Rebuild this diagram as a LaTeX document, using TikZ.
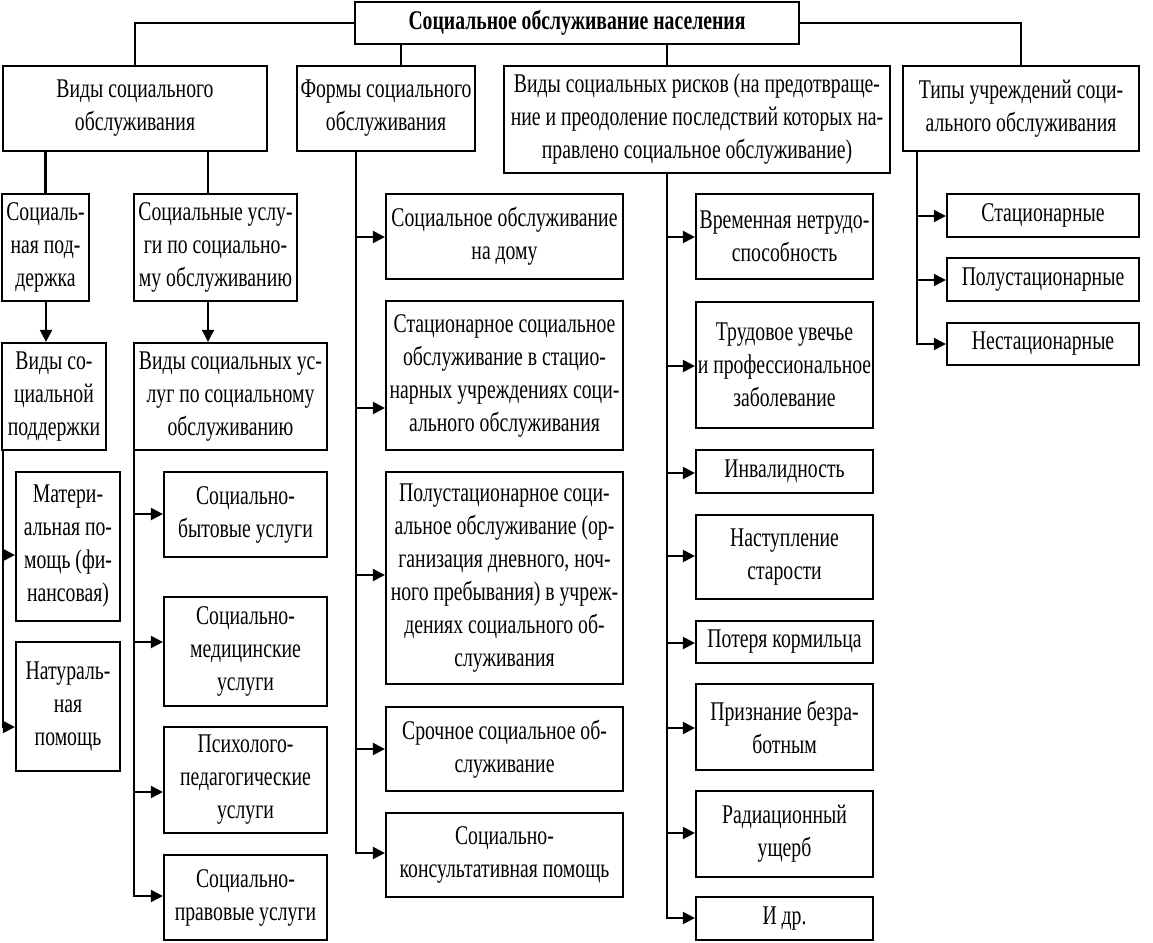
\documentclass[tikz,border=0pt]{standalone}
\usepackage{fontspec}
\setmainfont[FakeStretch=0.73]{Liberation Serif}
\usetikzlibrary{arrows.meta}
\newcommand{\bx}[7][]{\node[box,#1,minimum width={#5-#3},minimum height={#6-#4}] (#2) at ({(#3+#5)/2},{(#4+#6)/2}) {#7};}
\begin{document}
\begin{tikzpicture}[x=1pt,y=-1pt,
  box/.style={draw=black,line width=2.2pt,inner sep=0pt,align=center,font=\fontsize{27}{33}\selectfont},
  ln/.style={line width=2.2pt},
  arr/.style={line width=2.2pt,-{Triangle[length=12pt,width=12pt]}}]
\useasboundingbox (0,0) rectangle (1153,942);
% level 0-1
\bx[font=\fontsize{27}{33}\selectfont\bfseries]{top}{355}{2}{799}{44}{Социальное обслуживание населения}
\bx{vid}{3}{66}{267}{151}{Виды социального\\обслуживания}
\bx{form}{297}{66}{475}{151}{Формы социального\\обслуживания}
\bx{risk}{504}{66}{890}{173}{Виды социальных рисков (на предотвраще-\\ние и преодоление последствий которых на-\\правлено социальное обслуживание)}
\bx{tip}{903}{66}{1139}{151}{Типы учреждений соци-\\ального обслуживания}
% column 1-2
\bx{pod}{2}{194}{89}{301}{Социаль-\\ная под-\\держка}
\bx{usl}{134}{194}{297}{301}{Социальные услу-\\ги по социально-\\му обслуживанию}
\bx{vpod}{2}{343}{106}{450}{Виды со-\\циальной\\поддержки}
\bx{vusl}{134}{343}{327}{450}{Виды социальных ус-\\луг по социальному\\обслуживанию}
\bx{mat}{16}{472}{120}{621}{Матери-\\альная по-\\мощь (фи-\\нансовая)}
\bx{nat}{16}{642}{120}{771}{Натураль-\\ная\\помощь}
\bx{byt}{164}{472}{327}{557}{Социально-\\бытовые услуги}
\bx{med}{164}{597}{327}{706}{Социально-\\медицинские\\услуги}
\bx{psy}{164}{727}{327}{833}{Психолого-\\педагогические\\услуги}
\bx{pra}{164}{855}{327}{940}{Социально-\\правовые услуги}
% column 3
\bx{dom}{386}{194}{623}{279}{Социальное обслуживание\\на дому}
\bx{sta}{386}{301}{623}{450}{Стационарное социальное\\обслуживание в стацио-\\нарных учреждениях соци-\\ального обслуживания}
\bx{pst}{386}{472}{623}{684}{Полустационарное соци-\\альное обслуживание (ор-\\ганизация дневного, ноч-\\ного пребывания) в учреж-\\дениях социального об-\\служивания}
\bx{sro}{386}{707}{623}{791}{Срочное социальное об-\\служивание}
\bx{kon}{386}{813}{623}{897}{Социально-\\консультативная помощь}
% column 4
\bx{vre}{696}{194}{873}{279}{Временная нетрудо-\\способность}
\bx{tru}{696}{302}{873}{428}{Трудовое увечье\\и профессиональное\\заболевание}
\bx{inv}{696}{450}{873}{493}{Инвалидность}
\bx{nas}{696}{515}{873}{599}{Наступление\\старости}
\bx{pot}{696}{621}{873}{663}{Потеря кормильца}
\bx{pri}{696}{684}{873}{770}{Признание безра-\\ботным}
\bx{rad}{696}{791}{873}{877}{Радиационный\\ущерб}
\bx{idr}{696}{897}{873}{940}{И др.}
% column 5
\bx{st}{947}{194}{1139}{237}{Стационарные}
\bx{pst2}{947}{258}{1139}{301}{Полустационарные}
\bx{nst}{947}{323}{1139}{365}{Нестационарные}
% x positions of connector lines
\coordinate (xA) at (401,0);
\coordinate (xB) at (667,0);
\coordinate (xC) at (208,0);
\coordinate (xD) at (46,0);
\coordinate (xE) at (3,0);
\coordinate (xG) at (134,0);
\coordinate (xH) at (356,0);
\coordinate (xI) at (917,0);
% connectors
\draw[ln] (top.west) -| (vid.north);
\draw[ln] (top.east) -| (tip.north);
\draw[ln] (top.south -| xA) -- (form.north -| xA);
\draw[ln] (top.south -| xB) -- (risk.north -| xB);
\draw[ln] (vid.south -| pod.north) -- (pod.north);
\draw[ln] (vid.south -| xC) -- (usl.north -| xC);
\draw[arr] (pod.south -| xD) -- (vpod.north -| xD);
\draw[arr] (usl.south -| xC) -- (vusl.north -| xC);
% column 1
\draw[arr] (vpod.south -| xE) |- (mat.west |- 0,555);
\draw[arr] (vpod.south -| xE) |- (nat.west |- 0,727);
% column 2
\draw[arr] (vusl.south -| xG) |- (byt.west |- 0,514);
\draw[arr] (vusl.south -| xG) |- (med.west |- 0,642);
\draw[arr] (vusl.south -| xG) |- (psy.west |- 0,792);
\draw[arr] (vusl.south -| xG) |- (pra.west |- 0,896);
% column 3
\draw[arr] (form.south -| xH) |- (dom.west |- 0,237);
\draw[arr] (form.south -| xH) |- (sta.west |- 0,408);
\draw[arr] (form.south -| xH) |- (pst.west |- 0,575);
\draw[arr] (form.south -| xH) |- (sro.west |- 0,749);
\draw[arr] (form.south -| xH) |- (kon.west |- 0,853);
% column 4
\draw[arr] (risk.south -| xB) |- (vre.west |- 0,237);
\draw[arr] (risk.south -| xB) |- (tru.west |- 0,366);
\draw[arr] (risk.south -| xB) |- (inv.west |- 0,473);
\draw[arr] (risk.south -| xB) |- (nas.west |- 0,556);
\draw[arr] (risk.south -| xB) |- (pot.west |- 0,643);
\draw[arr] (risk.south -| xB) |- (pri.west |- 0,728);
\draw[arr] (risk.south -| xB) |- (rad.west |- 0,833);
\draw[arr] (risk.south -| xB) |- (idr.west |- 0,918);
% column 5
\draw[arr] (tip.south -| xI) |- (st.west |- 0,216);
\draw[arr] (tip.south -| xI) |- (pst2.west |- 0,280);
\draw[arr] (tip.south -| xI) |- (nst.west |- 0,344);
\end{tikzpicture}
\end{document}
